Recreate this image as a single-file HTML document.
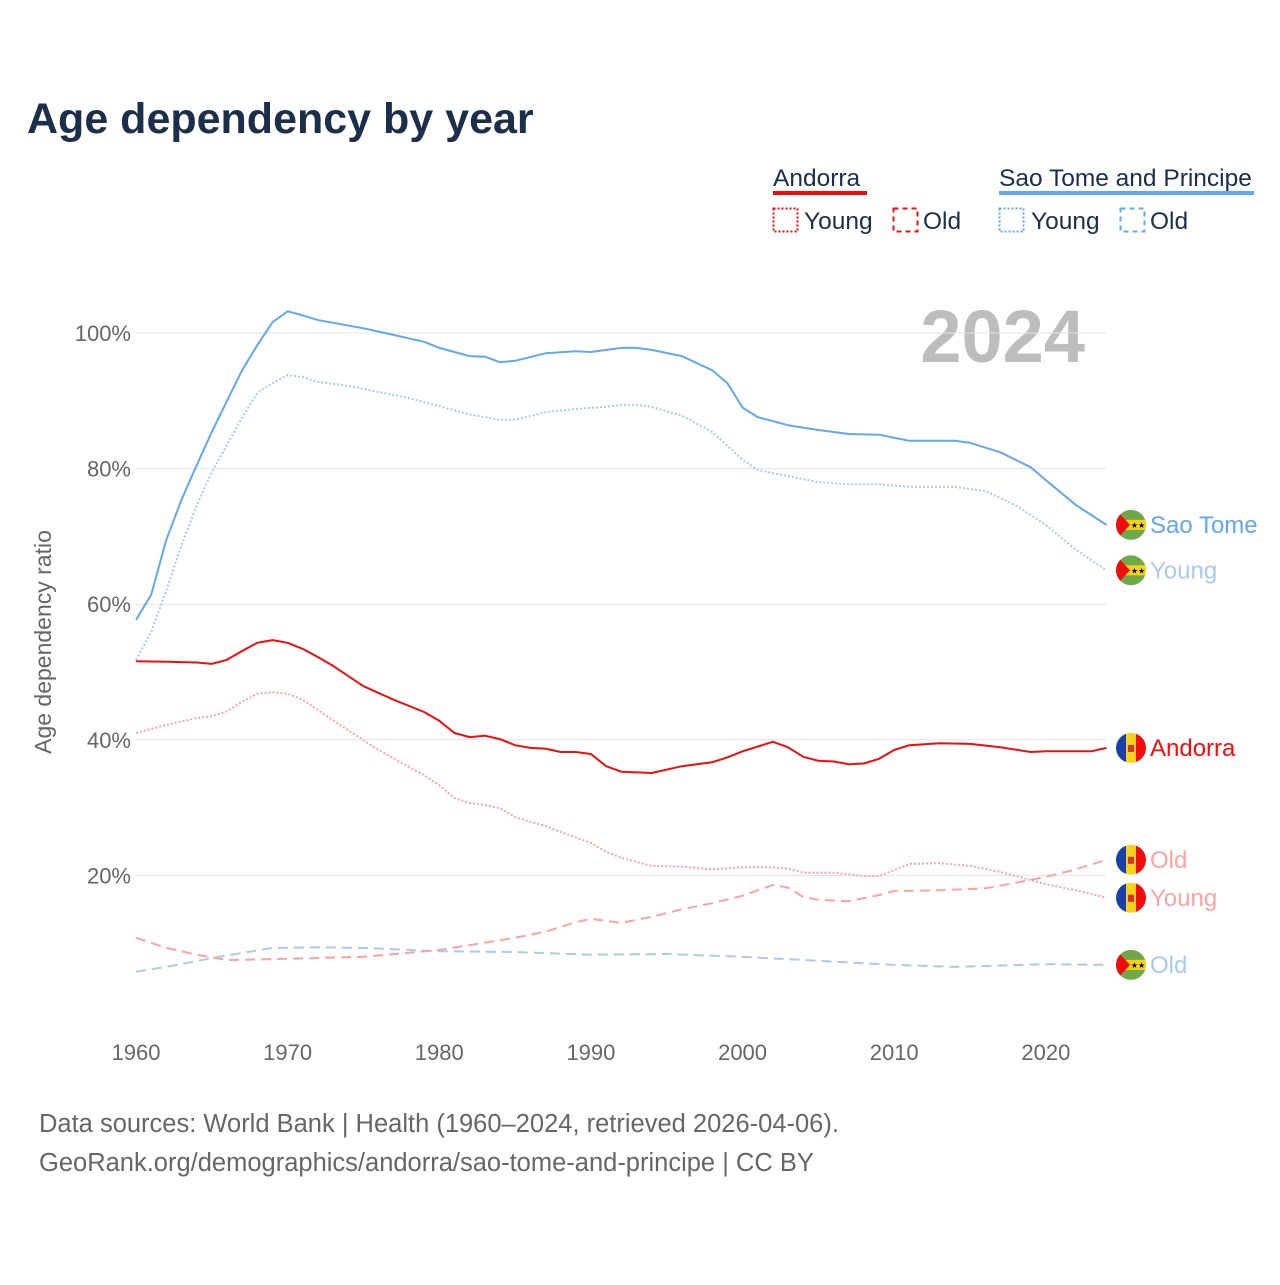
<!DOCTYPE html>
<html><head><meta charset="utf-8"><style>
body{margin:0;background:#fff;width:1280px;height:1280px;overflow:hidden;font-family:"Liberation Sans",sans-serif}
</style></head><body>
<svg id="chart" width="1280" height="1280" viewBox="0 0 1280 1280" xmlns="http://www.w3.org/2000/svg" font-family="Liberation Sans, sans-serif">
<text x="27" y="133" font-size="43" font-weight="bold" fill="#1b2e4b">Age dependency by year</text>
<g font-size="24.5" fill="#1b2e4b">
<text x="773" y="186">Andorra</text>
<rect x="773" y="191" width="94" height="4" fill="#f00d0d"/>
<rect x="773.5" y="208.5" width="24" height="23" fill="none" stroke="#f00d0d" stroke-width="2" stroke-dasharray="2,2"/>
<text x="804" y="229">Young</text>
<rect x="893.5" y="208.5" width="24" height="23" fill="none" stroke="#f00d0d" stroke-width="2" stroke-dasharray="5,4"/>
<text x="923" y="229">Old</text>
<text x="999" y="186">Sao Tome and Principe</text>
<rect x="999" y="191" width="255" height="4" fill="#62a8ea"/>
<rect x="999.5" y="208.5" width="24" height="23" fill="none" stroke="#62a8ea" stroke-width="2" stroke-dasharray="2,2"/>
<text x="1031" y="229">Young</text>
<rect x="1120.5" y="208.5" width="24" height="23" fill="none" stroke="#62a8ea" stroke-width="2" stroke-dasharray="5,4"/>
<text x="1150" y="229">Old</text>
</g>
<text x="1085" y="362" font-size="74" font-weight="bold" fill="#bdbdbd" text-anchor="end">2024</text>
<text transform="translate(51,642) rotate(-90)" font-size="23" fill="#666" text-anchor="middle">Age dependency ratio</text>
<g id="grid"></g><g id="series"></g><g id="labels"></g>
<text x="39" y="1132" font-size="25.5" fill="#666">Data sources: World Bank | Health (1960–2024, retrieved 2026-04-06).</text>
<text x="39" y="1171" font-size="25.5" fill="#666">GeoRank.org/demographics/andorra/sao-tome-and-principe | CC BY</text>
</svg>
<script>
const yTicks=[20,40,60,80,100];
const xTicks=[1960,1970,1980,1990,2000,2010,2020];
const stpTotalYears=[1960,1961,1962,1963,1964,1965,1966,1967,1968,1969,1970,1971,1972,1973,1975,1977,1979,1980,1982,1983,1984,1985,1987,1989,1990,1992,1993,1994,1996,1998,1999,2000,2001,2002,2003,2005,2007,2009,2011,2013,2014,2015,2017,2019,2020,2022,2024];
const stpTotal=[57.7,61.4,69.5,75.4,80.5,85.4,90,94.5,98.2,101.6,103.2,102.6,101.9,101.5,100.7,99.7,98.7,97.8,96.6,96.5,95.7,95.9,97,97.3,97.2,97.8,97.8,97.5,96.6,94.5,92.6,89,87.6,87,86.4,85.7,85.1,85,84.1,84.1,84.1,83.8,82.4,80.2,78.3,74.6,71.7];
const stpYoungYears=[1960,1961,1962,1963,1964,1965,1966,1967,1968,1969,1970,1971,1972,1974,1976,1978,1980,1982,1984,1985,1987,1989,1991,1992,1993,1994,1996,1998,2000,2001,2003,2005,2007,2009,2011,2013,2014,2016,2018,2020,2022,2024];
const stpYoung=[51.8,55.9,62,68.7,74.6,79.5,83.5,87.5,91.2,92.6,93.8,93.5,92.8,92.2,91.3,90.4,89.2,88,87.2,87.2,88.3,88.8,89.1,89.4,89.4,89.1,87.8,85.4,81.3,79.8,78.9,78,77.7,77.7,77.3,77.3,77.3,76.7,74.6,71.7,68,65];
const stpOldYears=[1960,1962,1965,1969,1972,1975,1980,1985,1990,1995,2000,2005,2010,2014,2020,2024];
const stpOld=[5.8,6.5,7.8,9.3,9.4,9.3,8.8,8.7,8.3,8.4,8,7.4,6.8,6.5,6.9,6.8];
const andTotalYears=[1960,1962,1964,1965,1966,1967,1968,1969,1970,1971,1972,1973,1975,1977,1979,1980,1981,1982,1983,1984,1985,1986,1987,1988,1989,1990,1991,1992,1994,1996,1998,1999,2000,2002,2003,2004,2005,2006,2007,2008,2009,2010,2011,2013,2015,2017,2019,2020,2023,2024];
const andTotal=[51.6,51.5,51.4,51.2,51.8,53.1,54.3,54.7,54.3,53.4,52.2,50.9,47.9,45.9,44.1,42.8,41,40.4,40.6,40.1,39.2,38.8,38.7,38.2,38.2,37.9,36.1,35.3,35.1,36.1,36.7,37.4,38.3,39.7,38.9,37.5,36.9,36.8,36.4,36.5,37.2,38.5,39.2,39.5,39.4,38.9,38.2,38.3,38.3,38.8];
const andYoungYears=[1960,1962,1964,1965,1966,1967,1968,1969,1970,1971,1972,1974,1976,1978,1979,1980,1981,1982,1983,1984,1985,1986,1987,1988,1990,1991,1992,1994,1996,1998,2000,2002,2003,2004,2006,2008,2009,2010,2011,2013,2015,2017,2019,2020,2022,2024];
const andYoung=[41,42.2,43.2,43.5,44.2,45.6,46.8,47,46.8,45.9,44.4,41.4,38.5,36,34.8,33.3,31.4,30.7,30.4,29.9,28.6,27.9,27.3,26.4,24.8,23.5,22.6,21.4,21.3,20.9,21.2,21.2,21,20.4,20.4,19.9,19.9,20.8,21.7,21.8,21.4,20.5,19.3,18.7,17.8,16.7];
const andOldYears=[1960,1962,1964,1966,1970,1975,1980,1985,1987,1989,1990,1992,1994,1996,1998,2000,2002,2003,2004,2005,2007,2009,2010,2013,2016,2018,2020,2022,2024];
const andOld=[10.8,9.3,8.3,7.5,7.7,8,9,10.8,11.7,13.1,13.6,13,13.9,15,15.9,17,18.6,18.2,16.8,16.4,16.2,17.1,17.7,17.8,18.1,18.9,19.8,20.9,22.3];

const NS='http://www.w3.org/2000/svg';
const X=y=>136+(y-1960)*(1106.5-136)/64;
const Y=v=>1011-v*6.78;
function mk(tag,attrs,parent){const e=document.createElementNS(NS,tag);for(const k in attrs)e.setAttribute(k,attrs[k]);parent.appendChild(e);return e;}
const grid=document.getElementById('grid'),ser=document.getElementById('series'),lab=document.getElementById('labels');
yTicks.forEach(t=>{
  const l=mk('line',{x1:136,x2:1106,y1:Y(t),y2:Y(t),stroke:'#e3e3e3','stroke-width':1},grid);
  
  
  const tx=mk('text',{x:131,y:Y(t)+8,'font-size':22,fill:'#666','text-anchor':'end'},grid);
  tx.textContent=t+'%';
  
  
});
xTicks.forEach(t=>{
  const tx=mk('text',{x:X(t),y:1060,'font-size':22,fill:'#666','text-anchor':'middle'},grid);
  tx.textContent=t;
  
  
});
function line(xs,vs,color,dash,name){
  const d=xs.map((x,i)=>(i?'L':'M')+X(x).toFixed(1)+','+Y(vs[i]).toFixed(1)).join('');
  const p=mk('path',{d:d,fill:'none',stroke:color,'stroke-width':2,'stroke-dasharray':dash,'stroke-linejoin':'round'},ser);
  
  
}
line(stpOldYears,stpOld,'#a9c9f1','10,6','line-sao-tome-old');
line(andOldYears,andOld,'#f9a3a3','10,6','line-andorra-old');
line(andYoungYears,andYoung,'#f9a3a3','2,2','line-andorra-young');
line(stpYoungYears,stpYoung,'#a9c9f1','2,2','line-sao-tome-young');
line(andTotalYears,andTotal,'#f00d0d','','line-andorra-total');
line(stpTotalYears,stpTotal,'#62a8ea','','line-sao-tome-total');
function flag(type,cy,parent){
  const g=mk('g',{},parent);const cx=1131,r=15;
  const id='c'+Math.round(cy);
  const cp=mk('clipPath',{id:id},g);mk('circle',{cx:cx,cy:cy,r:r},cp);
  const h=mk('g',{'clip-path':'url(#'+id+')'},g);
  if(type==='stp'){
    mk('rect',{x:cx-r,y:cy-r,width:30,height:30,fill:'#6fa84a'},h);
    mk('rect',{x:cx-r,y:cy-5,width:30,height:10,fill:'#f7d218'},h);
    mk('polygon',{points:(cx-r)+','+(cy-r)+' '+(cx-1)+','+cy+' '+(cx-r)+','+(cy+r),fill:'#f00d0d'},h);
    const s=mk('text',{x:cx+7,y:cy+3,'font-size':8,'text-anchor':'middle',fill:'#000'},h);s.textContent='★★';
  }else{
    mk('rect',{x:cx-r,y:cy-r,width:10,height:30,fill:'#1a3fa8'},h);
    mk('rect',{x:cx-5,y:cy-r,width:10,height:30,fill:'#f7d218'},h);
    mk('rect',{x:cx+5,y:cy-r,width:10,height:30,fill:'#f00d0d'},h);
    mk('rect',{x:cx-3,y:cy-3,width:6,height:7,fill:'#d0342c'},h);
  }
  return g;
}
function endLabel(type,v,text,color,name){
  const cy=Y(v);
  const f=flag(type,cy,lab);
  
  
  const t=mk('text',{x:1150,y:cy+8,'font-size':24,fill:color},lab);
  t.textContent=text;
  
  
}
endLabel('stp',stpTotal[stpTotal.length-1],'Sao Tome','#62a8ea','label-sao-tome-total');
endLabel('stp',stpYoung[stpYoung.length-1],'Young','#a9c9f1','label-sao-tome-young');
endLabel('stp',stpOld[stpOld.length-1],'Old','#a9c9f1','label-sao-tome-old');
endLabel('and',andTotal[andTotal.length-1],'Andorra','#f00d0d','label-andorra-total');
endLabel('and',andOld[andOld.length-1],'Old','#f9a3a3','label-andorra-old');
endLabel('and',andYoung[andYoung.length-1],'Young','#f9a3a3','label-andorra-young');
</script>
</body></html>
